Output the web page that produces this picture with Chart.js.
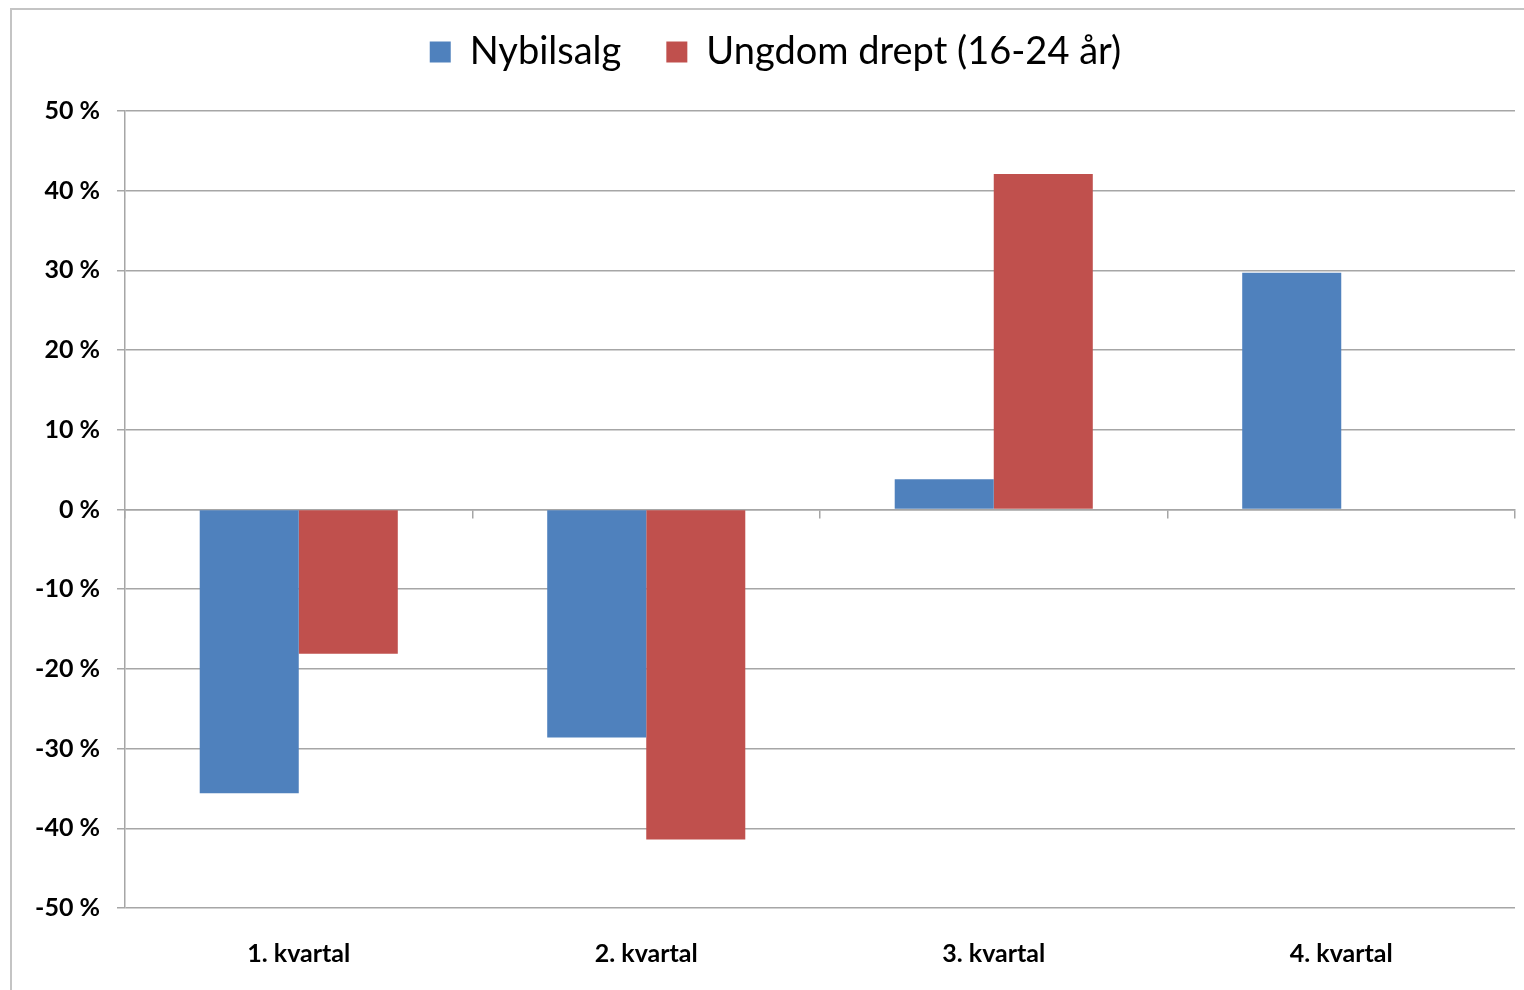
<!DOCTYPE html>
<html lang="no">
<head>
<meta charset="utf-8">
<title>Nybilsalg og ungdom drept</title>
<script src="https://cdn.jsdelivr.net/npm/chart.js@4/dist/chart.umd.min.js"></script>
<style>
    html, body {
        margin: 0;
        padding: 0;
        background: #ffffff;
        overflow: hidden;
        width: 1524px;
        height: 990px;
    }
    .frame {
        position: absolute;
        left: 10px;
        top: 8px;
        width: 1512px;
        height: 980px;
        border-left: 2px solid #c4c4c4;
        border-top: 2px solid #c4c4c4;
    }
    .frame canvas {
        display: block;
    }
</style>
</head>
<body>
<div class="frame">
    <canvas id="salesChart" width="1512" height="980"></canvas>
</div>
<script>
// Chart data (percent change per quarter)
const categories = ['1. kvartal', '2. kvartal', '3. kvartal', '4. kvartal'];
const seriesNames = ['Nybilsalg', 'Ungdom drept (16-24 år)'];
const nybilsalg = [-35.6, -28.6, 3.8, 29.7];
const ungdomDrept = [-18.1, -41.4, 42.1, null];
const yTicks = [-50, -40, -30, -20, -10, 0, 10, 20, 30, 40, 50];

const gridColor = '#a6a6a6';

// Make the legend take a fixed block of height above the plot
const legendHeight = {
    id: 'legendHeight',
    beforeInit(chart) {
        const fit = chart.legend.fit;
        chart.legend.fit = function() {
            fit.call(this);
            this.height = 123;
        };
    }
};

document.addEventListener('DOMContentLoaded', function() {
    const ctx = document.getElementById('salesChart');

    new Chart(ctx, {
        type: 'bar',
        data: {
            labels: categories,
            datasets: [
                {
                    label: seriesNames[0],
                    data: nybilsalg,
                    backgroundColor: '#4f81bd',
                    borderWidth: 0,
                    xAxisID: 'x'
                },
                {
                    label: seriesNames[1],
                    data: ungdomDrept,
                    backgroundColor: '#c0504d',
                    borderWidth: 0,
                    xAxisID: 'x'
                }
            ]
        },
        options: {
            responsive: false,
            animation: false,
            events: [],
            layout: {
                // legend padding is large for the gap between items, so pull it up
                padding: { top: -22, right: 9, bottom: 0, left: 24 }
            },
            datasets: {
                bar: {
                    categoryPercentage: 0.57,
                    barPercentage: 1
                }
            },
            plugins: {
                legend: {
                    position: 'top',
                    labels: {
                        boxWidth: 21,
                        boxHeight: 21,
                        padding: 45,
                        color: '#000000',
                        font: { family: 'Lato', size: 38 }
                    }
                },
                tooltip: { enabled: false }
            },
            scales: {
                x: {
                    position: 'bottom',
                    grid: { display: false, drawTicks: false },
                    border: { display: false },
                    ticks: {
                        padding: 31,
                        color: '#000000',
                        font: { family: 'Lato', size: 25, weight: 'bold' }
                    },
                    afterFit(scale) {
                        scale.height = 82;
                    }
                },
                // category axis crossing at 0 %, only for the line and tick marks
                x2: {
                    type: 'category',
                    position: { y: 0 },
                    offset: true,
                    grid: {
                        offset: true,
                        drawOnChartArea: false,
                        drawTicks: true,
                        tickLength: 8,
                        color: gridColor,
                        lineWidth: 1.5
                    },
                    border: { display: true, color: gridColor, width: 1.5 },
                    ticks: { display: false }
                },
                y: {
                    min: yTicks[0],
                    max: yTicks[yTicks.length - 1],
                    afterBuildTicks(scale) {
                        scale.ticks = yTicks.map(v => ({ value: v }));
                    },
                    grid: {
                        color: gridColor,
                        lineWidth: 1.5,
                        tickLength: 8
                    },
                    border: { display: true, color: gridColor, width: 1.5 },
                    ticks: {
                        padding: 17,
                        color: '#000000',
                        font: { family: 'Lato', size: 25, weight: 'bold' },
                        callback: function(value) {
                            return value + ' %';
                        }
                    },
                    afterFit(scale) {
                        scale.width = 89;
                    }
                }
            }
        },
        plugins: [legendHeight]
    });
});
</script>
</body>
</html>
